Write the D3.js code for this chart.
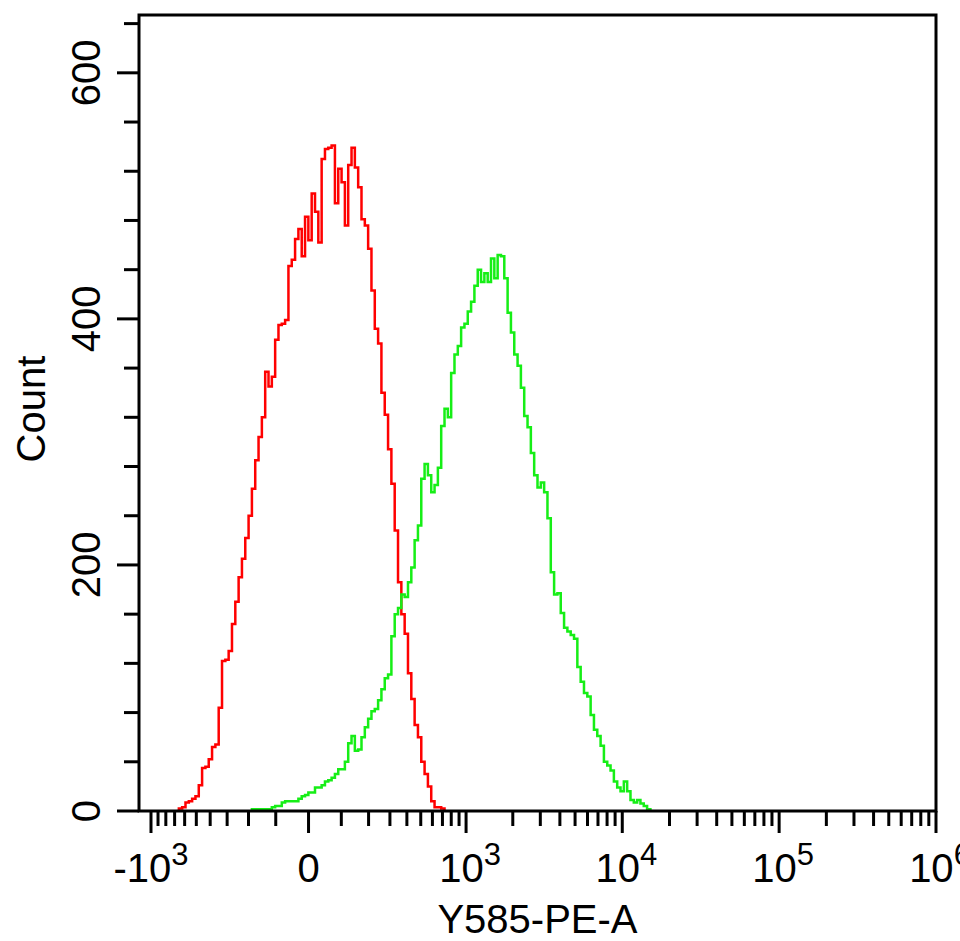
<!DOCTYPE html>
<html>
<head>
<meta charset="utf-8">
<script src="https://cdn.jsdelivr.net/npm/d3@7"></script>
<style>
  body { margin: 0; background: #fff; }
  svg { display: block; }
  text { font-family: "Liberation Sans", Arial, sans-serif; fill: #000; }
</style>
</head>
<body>
<svg id="hist"></svg>
<script>
// 1. Data (counts per display channel)
const nChannels = 240;
const redStart = 12;
const redCounts = [
  2, 3, 7, 8, 10, 12, 21, 35, 36, 42, 52, 54, 84, 122, 123, 130, 152, 170, 190, 205,
  222, 240, 262, 285, 304, 320, 357, 345, 353, 383, 395, 396, 399, 443, 448, 465, 473, 451, 483, 464,
  502, 487, 462, 530, 538, 539, 541, 494, 522, 511, 476, 525, 539, 523, 507, 481, 476, 457, 423, 392,
  380, 340, 322, 294, 266, 228, 186, 160, 144, 112, 91, 70, 60, 40, 30, 20, 8, 3, 3, 2
];
const greenStart = 34;
const greenCounts = [
  1.5, 1.5, 1.5, 1.5, 1.5, 1.5, 3, 4, 4, 7, 8, 8, 8, 8, 10, 12, 13, 15, 15, 19,
  19, 21, 24, 25, 27, 30, 34, 34, 40, 55, 61, 49, 50, 60, 68, 75, 81, 83, 90, 99,
  108, 111, 142, 160, 165, 176, 174, 186, 198, 220, 232, 270, 282, 273, 259, 265, 279, 313, 327, 320,
  356, 371, 378, 393, 396, 406, 414, 427, 440, 430, 437, 430, 449, 433, 452, 451, 433, 405, 389, 371,
  362, 344, 321, 312, 291, 273, 263, 267, 259, 238, 194, 176, 177, 161, 149, 146, 143, 140, 117, 105,
  96, 93, 78, 66, 61, 53, 40, 37, 33, 24, 19, 16, 24, 16, 9, 7, 9, 6, 4, 1.5
];

const xMajor = [-1000, 0, 1000, 1e4, 1e5, 1e6];
const xMajorLabels = [["-10", "3"], ["0", ""], ["10", "3"], ["10", "4"], ["10", "5"], ["10", "6"]];
const xMinor = [
  -900, -800, -700, -600, -500, -400, -300, -200, -100,
  100, 200, 300, 400, 500, 600, 700, 800, 900,
  2e3, 3e3, 4e3, 5e3, 6e3, 7e3, 8e3, 9e3,
  2e4, 3e4, 4e4, 5e4, 6e4, 7e4, 8e4, 9e4,
  2e5, 3e5, 4e5, 5e5, 6e5, 7e5, 8e5, 9e5
];
const yMajor = [0, 200, 400, 600];
const yMinor = [40, 80, 120, 160, 240, 280, 320, 360, 440, 480, 520, 560, 640];

// 2. Setting up the chart
const width = 960,
  height = 941,
  plotLeft = 139,
  plotRight = 936,
  plotTop = 15,
  plotBottom = 811;

const svg = d3.select("#hist").attr("width", width).attr("height", height);

// biexponential-like display: arcsinh transform, then linear
const C = 200;
const tr = (v) => Math.asinh(v / C);
const x = d3.scaleLinear().domain([tr(-1196), tr(1e6)]).range([plotLeft, plotRight]);
const xv = (v) => x(tr(v));
const chan = d3.scaleLinear().domain([0, nChannels]).range(x.domain());
const y = d3.scaleLinear().domain([0, 647]).range([plotBottom, plotTop]);

// 3. Histograms as step lines
const line = d3
  .line()
  .x((d) => x(chan(d[0])))
  .y((d) => y(d[1]))
  .curve(d3.curveStepAfter);

function steps(start, counts) {
  const pts = [[start, 0]];
  counts.forEach((c, i) => pts.push([start + i, c]));
  pts.push([start + counts.length, counts[counts.length - 1]]);
  pts.push([start + counts.length, 0]);
  return pts;
}

svg
  .append("path")
  .attr("d", line(steps(redStart, redCounts)))
  .attr("fill", "none")
  .attr("stroke", "#f00")
  .attr("stroke-width", 2.5);

svg
  .append("path")
  .attr("d", line(steps(greenStart, greenCounts)))
  .attr("fill", "none")
  .attr("stroke", "#16ee16")
  .attr("stroke-width", 2.5);

// 4. Frame
svg
  .append("rect")
  .attr("x", plotLeft)
  .attr("y", plotTop)
  .attr("width", plotRight - plotLeft)
  .attr("height", plotBottom - plotTop)
  .attr("fill", "none")
  .attr("stroke", "#000")
  .attr("stroke-width", 3);

// 5. X ticks and labels
svg
  .selectAll(".xminor")
  .data(xMinor)
  .enter()
  .append("line")
  .attr("x1", (d) => xv(d))
  .attr("x2", (d) => xv(d))
  .attr("y1", plotBottom)
  .attr("y2", plotBottom + 15)
  .attr("stroke", "#000")
  .attr("stroke-width", 3);

svg
  .selectAll(".xmajor")
  .data(xMajor)
  .enter()
  .append("line")
  .attr("x1", (d) => xv(d))
  .attr("x2", (d) => xv(d))
  .attr("y1", plotBottom)
  .attr("y2", plotBottom + 22)
  .attr("stroke", "#000")
  .attr("stroke-width", 3);

const xLabels = svg
  .selectAll(".xlabel")
  .data(xMajor)
  .enter()
  .append("text")
  .attr("x", (d, i) => xv(d) + (i > 1 ? 4 : 0))
  .attr("y", 882)
  .attr("text-anchor", "middle")
  .style("font-size", "40px");

xLabels.append("tspan").text((d, i) => xMajorLabels[i][0]);
xLabels
  .append("tspan")
  .attr("dy", -17)
  .style("font-size", "31px")
  .text((d, i) => xMajorLabels[i][1]);

svg
  .append("text")
  .attr("x", (plotLeft + plotRight) / 2)
  .attr("y", 933)
  .attr("text-anchor", "middle")
  .style("font-size", "40px")
  .text("Y585-PE-A");

// 6. Y ticks and labels
svg
  .selectAll(".yminor")
  .data(yMinor)
  .enter()
  .append("line")
  .attr("x1", plotLeft - 15)
  .attr("x2", plotLeft)
  .attr("y1", (d) => y(d))
  .attr("y2", (d) => y(d))
  .attr("stroke", "#000")
  .attr("stroke-width", 3);

svg
  .selectAll(".ymajor")
  .data(yMajor)
  .enter()
  .append("line")
  .attr("x1", plotLeft - 22)
  .attr("x2", plotLeft)
  .attr("y1", (d) => y(d))
  .attr("y2", (d) => y(d))
  .attr("stroke", "#000")
  .attr("stroke-width", 3);

svg
  .selectAll(".ylabel")
  .data(yMajor)
  .enter()
  .append("text")
  .attr("transform", (d) => `translate(100, ${y(d)}) rotate(-90)`)
  .attr("text-anchor", "middle")
  .style("font-size", "40px")
  .text((d) => d);

svg
  .append("text")
  .attr("transform", "translate(45, 409) rotate(-90)")
  .attr("text-anchor", "middle")
  .style("font-size", "40px")
  .text("Count");
</script>
</body>
</html>
